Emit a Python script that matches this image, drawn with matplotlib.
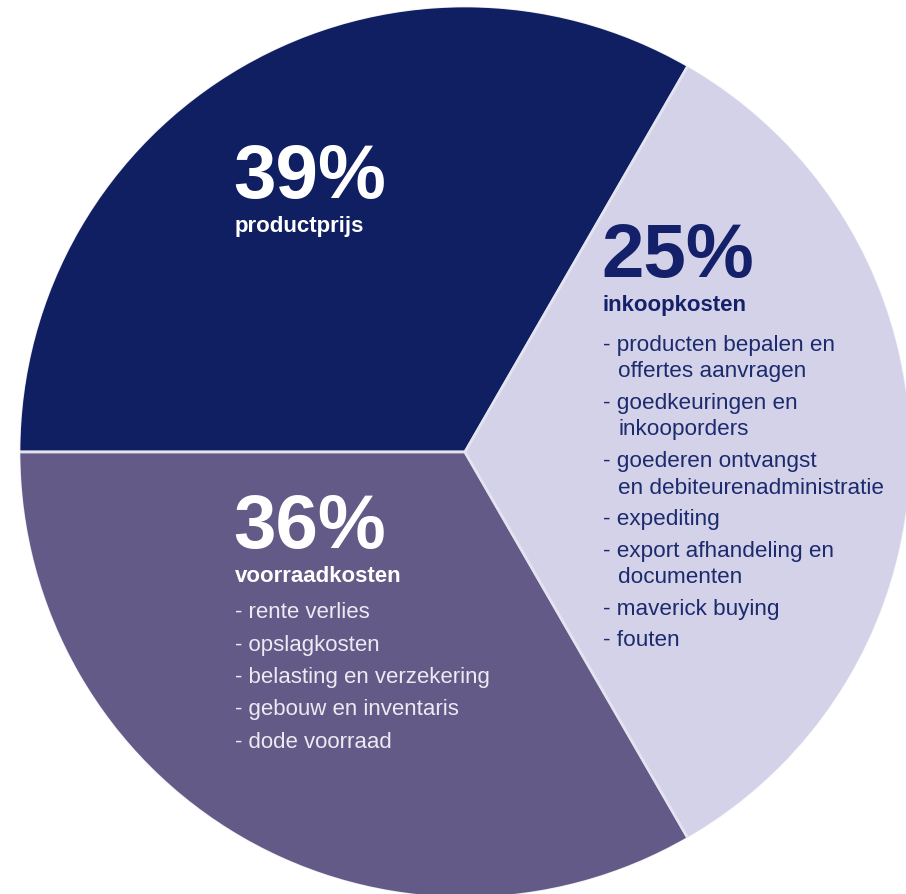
import matplotlib.pyplot as plt
from matplotlib.patches import Circle

plt.rcParams['font.family'] = ['Liberation Sans', 'DejaVu Sans']

# data
labels = ["productprijs", "voorraadkosten", "inkoopkosten"]
percentages = [39, 36, 25]
slice_sizes = [1, 1, 1]  # the original draws three equal wedges
colors = ["#0f1f62", "#635a87", "#d4d2e8"]

voorraad_items = [
    ["rente verlies"],
    ["opslagkosten"],
    ["belasting en verzekering"],
    ["gebouw en inventaris"],
    ["dode voorraad"],
]
inkoop_items = [
    ["producten bepalen en", "offertes aanvragen"],
    ["goedkeuringen en", "inkooporders"],
    ["goederen ontvangst", "en debiteurenadministratie"],
    ["expediting"],
    ["export afhandeling en", "documenten"],
    ["maverick buying"],
    ["fouten"],
]

W, H = 906, 894
cx, cy, r = 465, H - 452, 446
fig = plt.figure(figsize=(W / 100, H / 100), dpi=100)
ax = fig.add_axes([0, 0, 1, 1])

ax.pie(slice_sizes, colors=colors, startangle=60, counterclock=True,
       center=(cx, cy), radius=r,
       wedgeprops=dict(edgecolor="#e4e3f0", linewidth=2))
# hide the light stroke on the outer rim, keep only the dividers
ax.add_patch(Circle((cx, cy), r + 1, fill=False, edgecolor="white", linewidth=2.5))
ax.set_xlim(0, W)
ax.set_ylim(0, H)
ax.set_aspect('equal')
ax.axis('off')


def y(px):
    return H - px


def block(x, base, pct, label, items, col, list_col, list_size, gap_in, gap_item, first_gap):
    ax.text(x - 2, y(base), f"{pct}%", fontsize=55, fontweight='bold',
            color=col, va='baseline', ha='left')
    ax.text(x, y(base + 34), label, fontsize=16, fontweight='bold',
            color=col, va='baseline', ha='left')
    yy = base + 34 + first_gap
    for item in items:
        for k, line in enumerate(item):
            if k == 0:
                ax.text(x, y(yy), "- " + line, fontsize=list_size,
                        color=list_col, va='baseline', ha='left')
            else:
                yy += gap_in
                ax.text(x + 15, y(yy), line, fontsize=list_size,
                        color=list_col, va='baseline', ha='left')
        yy += gap_item


ax.text(233, y(198), f"{percentages[0]}%", fontsize=55, fontweight='bold',
        color="white", va='baseline', ha='left')
ax.text(235, y(232), labels[0], fontsize=16, fontweight='bold',
        color="white", va='baseline', ha='left')

block(235, 548, percentages[1], labels[1], voorraad_items,
      "white", "#eceaf2", 16, 26.5, 32.5, 36)
block(603, 277, percentages[2], labels[2], inkoop_items,
      "#14216a", "#1c2a6e", 16.2, 26.5, 31.5, 40)

fig.savefig("out.png", dpi=100)
